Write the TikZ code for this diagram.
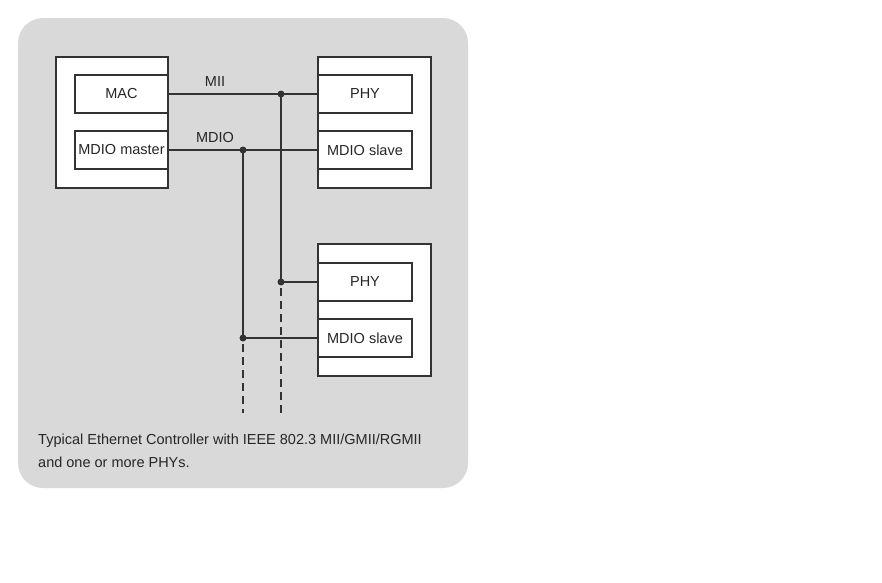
\documentclass[tikz,border=0pt]{standalone}
\usepackage{fontspec}
\setmainfont{Liberation Sans}
\begin{document}
\begin{tikzpicture}[x=1pt,y=-1pt,
  ln/.style={draw=black!80,line width=2pt},
  outer/.style={draw=black!80,line width=2pt,fill=white},
  inner/.style={draw=black!80,line width=2pt,fill=white,inner sep=0pt,font=\fontsize{14.5}{16}\selectfont,text=black!85},
  lbl/.style={font=\fontsize{14.5}{16}\selectfont,text=black!85,inner sep=0pt},
  dsh/.style={draw=black!80,line width=2pt,dash pattern=on 8pt off 5pt}]
\useasboundingbox (0,0) rectangle (882,582);
\fill[rounded corners=25pt,fill=black!15] (18,18) rectangle (468,488);
% outer boxes
\draw[outer] (56,57) rectangle (168,188);
\draw[outer] (318,57) rectangle (431,188);
\draw[outer] (318,244) rectangle (431,376);
% inner boxes
\node[inner,minimum width=93pt,minimum height=38pt] (mac) at (121.5,94) {MAC};
\node[inner,minimum width=93pt,minimum height=38pt] (mdm) at (121.5,150) {MDIO master};
\node[inner,minimum width=94pt,minimum height=38pt] (phy1) at (365,94) {PHY};
\node[inner,minimum width=94pt,minimum height=38pt] (mds1) at (365,150) {MDIO slave};
\node[inner,minimum width=94pt,minimum height=38pt] (phy2) at (365,282) {PHY};
\node[inner,minimum width=94pt,minimum height=38pt] (mds2) at (365,338) {MDIO slave};
% junctions
\coordinate (j1) at (281,94);
\coordinate (j2) at (243,150);
\coordinate (j3) at (281,282);
\coordinate (j4) at (243,338);
\coordinate (e3) at (281,413);
\coordinate (e4) at (243,413);
% connectors
\draw[ln] (mac.east) -- (phy1.west);
\draw[ln] (mdm.east) -- (mds1.west);
\draw[ln] (j1) -- (j3) -- (phy2.west);
\draw[ln] (j2) -- (j4) -- (mds2.west);
\draw[dsh] ([yshift=-6pt]j3) -- (e3);
\draw[dsh] ([yshift=-6pt]j4) -- (e4);
\foreach \j in {j1,j2,j3,j4} \fill[black!80] (\j) circle[radius=3.5pt];
% labels
\node[lbl] (lmii) at (215,82) {MII};
\node[lbl] (lmdio) at (215,138) {MDIO};
\node[lbl,anchor=west,align=left,font=\fontsize{14.5}{23}\selectfont] (cap) at (38,451) {Typical Ethernet Controller with IEEE 802.3 MII/GMII/RGMII\\and one or more PHYs.};
\end{tikzpicture}
\end{document}
